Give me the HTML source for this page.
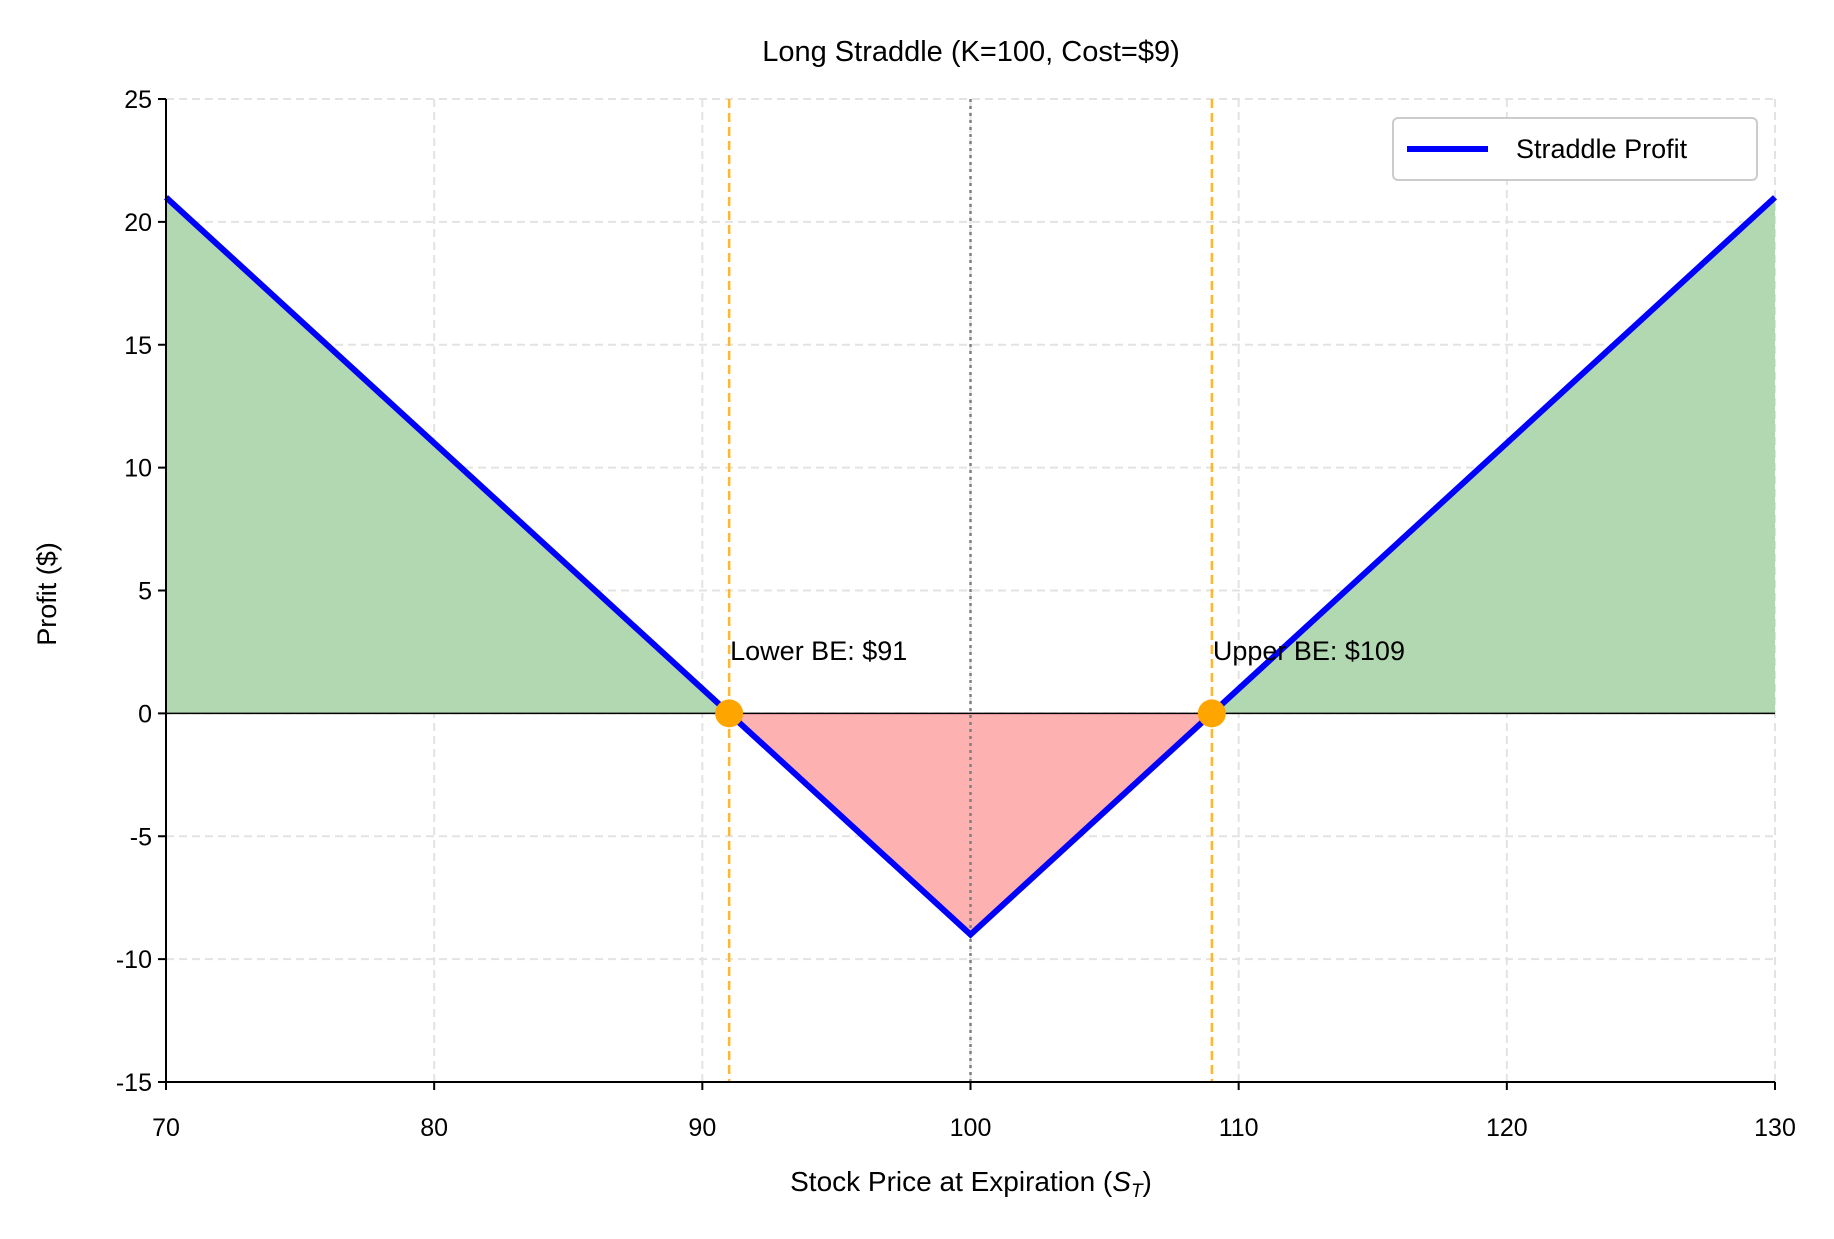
<!DOCTYPE html>
<html><head><meta charset="utf-8"><style>
body{margin:0;background:#fff}
svg text{font-family:"Liberation Sans","NanumGothic",sans-serif;fill:#000}
</style></head><body>
<svg id="chart" width="1834" height="1234" viewBox="0 0 1834 1234" xmlns="http://www.w3.org/2000/svg">
<rect width="1834" height="1234" fill="#fff"/>
<g id="grid"></g><g id="fills"></g><g id="refs"></g><g id="series"></g><g id="axes"></g>
<text x="971" y="61" font-size="29" text-anchor="middle">Long Straddle (K=100, Cost=$9)</text>
<text x="971" y="1191" font-size="28" text-anchor="middle">Stock Price at Expiration (<tspan font-style="italic">S</tspan><tspan font-style="italic" font-size="19" dy="6">T</tspan><tspan dy="-6">)</tspan></text>
<text transform="translate(56,594) rotate(-90)" font-size="27" text-anchor="middle">Profit ($)</text>
<g>
<rect x="1393" y="118" width="364" height="62" rx="5" fill="#fff" stroke="#ccc" stroke-width="2"/>
<line x1="1407" y1="149" x2="1488" y2="149" stroke="#0000ff" stroke-width="6"/>
<text x="1516" y="158" font-size="27">Straddle Profit</text>
</g>
</svg>
<script>
const xTicks=[70,80,90,100,110,120,130];
const yTicks=[-15,-10,-5,0,5,10,15,20,25];
const strikeK=[100];
const premium=[9];
const breakEvens=[91,109];
const beLabels=["Lower BE: $91","Upper BE: $109"];
const priceRange=[70,130];
const L=166,R=1775,T=99,B=1082;
const xs=v=>L+(v-70)/60*(R-L);
const ys=v=>T+(25-v)/40*(B-T);
const NS="http://www.w3.org/2000/svg";
function mk(p,t,a){const e=document.createElementNS(NS,t);for(const k in a)e.setAttribute(k,a[k]);document.getElementById(p).appendChild(e);return e;}
const K=strikeK[0],C=premium[0];
const pf=s=>Math.abs(s-K)-C;
xTicks.forEach(v=>{const g=mk('grid','line',{x1:xs(v),x2:xs(v),y1:T,y2:B,stroke:'#e3e3e3','stroke-width':2,'stroke-dasharray':'8,5'});

});
yTicks.forEach(v=>{const g=mk('grid','line',{x1:L,x2:R,y1:ys(v),y2:ys(v),stroke:'#e3e3e3','stroke-width':2,'stroke-dasharray':'8,5'});

});
const x0=priceRange[0],x1=priceRange[1],b0=breakEvens[0],b1=breakEvens[1];
let f=mk('fills','polygon',{points:`${xs(x0)},${ys(0)} ${xs(x0)},${ys(pf(x0))} ${xs(b0)},${ys(0)}`,fill:'#b1d8b1'});


f=mk('fills','polygon',{points:`${xs(b1)},${ys(0)} ${xs(x1)},${ys(pf(x1))} ${xs(x1)},${ys(0)}`,fill:'#b1d8b1'});


f=mk('fills','polygon',{points:`${xs(b0)},${ys(0)} ${xs(K)},${ys(pf(K))} ${xs(b1)},${ys(0)}`,fill:'#feb1b1'});


let r=mk('refs','line',{x1:L,x2:R,y1:ys(0),y2:ys(0),stroke:'#000','stroke-width':1.5});


r=mk('refs','line',{x1:xs(K),x2:xs(K),y1:T,y2:B,stroke:'#808080','stroke-width':2.5,'stroke-dasharray':'3,4'});


breakEvens.forEach((b,i)=>{const l=mk('refs','line',{x1:xs(b),x2:xs(b),y1:T,y2:B,stroke:'#ffb733','stroke-width':2.5,'stroke-dasharray':'9,5'});

});
const pts=[x0,K,x1].map(s=>xs(s)+','+ys(pf(s))).join(' ');
const ln=mk('series','polyline',{points:pts,fill:'none',stroke:'#0000ff','stroke-width':6,'stroke-linejoin':'miter'});


breakEvens.forEach((b,i)=>{const c=mk('series','circle',{cx:xs(b),cy:ys(0),r:14,fill:'#ffa500'});


const t=mk('series','text',{x:xs(b)+1,y:ys(2)-4,'font-size':27});t.textContent=beLabels[i];

});
let a=mk('axes','line',{x1:L,x2:L,y1:T,y2:B+1,stroke:'#000','stroke-width':2});


a=mk('axes','line',{x1:L-1,x2:R,y1:B,y2:B,stroke:'#000','stroke-width':2});


xTicks.forEach(v=>{mk('axes','line',{x1:xs(v),x2:xs(v),y1:B,y2:B+8,stroke:'#000','stroke-width':2});
const t=mk('axes','text',{x:xs(v),y:B+54,'font-size':25,'text-anchor':'middle'});t.textContent=v;

});
yTicks.forEach(v=>{mk('axes','line',{x1:L-8,x2:L,y1:ys(v),y2:ys(v),stroke:'#000','stroke-width':2});
const t=mk('axes','text',{x:L-14,y:ys(v)+9,'font-size':25,'text-anchor':'end'});t.textContent=v<0?'-'+(-v):v;

});
</script>
</body></html>
